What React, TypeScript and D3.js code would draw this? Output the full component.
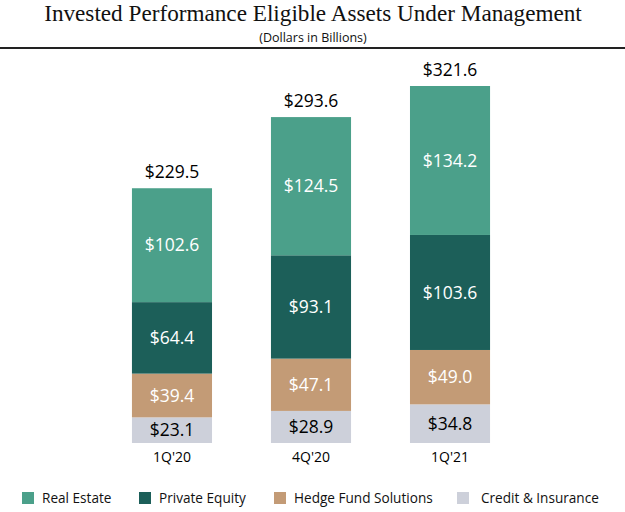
import React, { useEffect, useRef } from 'react';
import * as d3 from 'd3';

const periods = ["1Q'20", "4Q'20", "1Q'21"];
const seriesNames = ['Credit & Insurance', 'Hedge Fund Solutions', 'Private Equity', 'Real Estate'];
const creditInsurance = [23.1, 28.9, 34.8];
const hedgeFund = [39.4, 47.1, 49.0];
const privateEquity = [64.4, 93.1, 103.6];
const realEstate = [102.6, 124.5, 134.2];
const totals = [229.5, 293.6, 321.6];
const legendOrder = ['Real Estate', 'Private Equity', 'Hedge Fund Solutions', 'Credit & Insurance'];

const colors: Record<string, string> = {
  'Real Estate': '#4ba08a',
  'Private Equity': '#1c5f59',
  'Hedge Fund Solutions': '#c39b76',
  'Credit & Insurance': '#cdd0da',
};
const labelColors: Record<string, string> = {
  'Real Estate': '#ffffff',
  'Private Equity': '#ffffff',
  'Hedge Fund Solutions': '#ffffff',
  'Credit & Insurance': '#000000',
};

const W = 625;
const H = 512;
const FONT = '"Open Sans", "DejaVu Sans", sans-serif';

const App: React.FC = () => {
  const svgRef = useRef<SVGSVGElement>(null);

  useEffect(() => {
    if (!svgRef.current) return;
    const svg = d3.select(svgRef.current);
    svg.selectAll('*').remove();

    svg.append('rect').attr('width', W).attr('height', H).attr('fill', '#fff');

    // Title block
    svg.append('text')
      .attr('x', 313).attr('y', 21)
      .attr('text-anchor', 'middle')
      .attr('font-family', '"Liberation Serif", "DejaVu Serif", serif')
      .attr('font-size', 23.2)
      .attr('fill', '#111')
      .text('Invested Performance Eligible Assets Under Management');
    svg.append('text')
      .attr('x', 313).attr('y', 42)
      .attr('text-anchor', 'middle')
      .attr('font-family', FONT)
      .attr('font-size', 12.5)
      .attr('fill', '#111')
      .text('(Dollars in Billions)');
    svg.append('line')
      .attr('x1', 0).attr('x2', W)
      .attr('y1', 48).attr('y2', 48)
      .attr('stroke', '#222').attr('stroke-width', 2);

    const valuesBy: Record<string, number[]> = {
      'Credit & Insurance': creditInsurance,
      'Hedge Fund Solutions': hedgeFund,
      'Private Equity': privateEquity,
      'Real Estate': realEstate,
    };
    const rows = periods.map((p, i) => {
      const r: any = { period: p };
      seriesNames.forEach(s => { r[s] = valuesBy[s][i]; });
      return r;
    });

    const stack = d3.stack<any>().keys(seriesNames);
    const layers = stack(rows);

    const x = d3.scaleBand().domain(periods).range([73, 549]).padding(0.424);
    const y = d3.scaleLinear().domain([0, 321.6]).range([443, 86]);

    const g = svg.append('g');

    layers.forEach(layer => {
      const key = layer.key;
      layer.forEach((d, i) => {
        const p = periods[i];
        g.append('rect')
          .attr('x', x(p)!)
          .attr('width', x.bandwidth())
          .attr('y', y(d[1]))
          .attr('height', y(d[0]) - y(d[1]))
          .attr('fill', colors[key]);
        g.append('text')
          .attr('x', x(p)! + x.bandwidth() / 2)
          .attr('y', (y(d[0]) + y(d[1])) / 2)
          .attr('dy', '0.35em')
          .attr('text-anchor', 'middle')
          .attr('font-family', FONT)
          .attr('font-size', 17.5)
          .attr('fill', labelColors[key])
          .text(`$${(d[1] - d[0]).toFixed(1)}`);
      });
    });

    periods.forEach((p, i) => {
      g.append('text')
        .attr('x', x(p)! + x.bandwidth() / 2)
        .attr('y', y(totals[i]) - 10)
        .attr('text-anchor', 'middle')
        .attr('font-family', FONT)
        .attr('font-size', 17.5)
        .attr('fill', '#000')
        .text(`$${totals[i].toFixed(1)}`);
      g.append('text')
        .attr('x', x(p)! + x.bandwidth() / 2)
        .attr('y', 462)
        .attr('text-anchor', 'middle')
        .attr('font-family', FONT)
        .attr('font-size', 14)
        .attr('fill', '#000')
        .text(p);
    });

    // Legend
    const legendX = [22, 139, 274, 457];
    const legend = svg.append('g');
    legendOrder.forEach((name, i) => {
      legend.append('rect')
        .attr('x', legendX[i]).attr('y', 492)
        .attr('width', 12).attr('height', 12)
        .attr('fill', colors[name]);
      legend.append('text')
        .attr('x', legendX[i] + (name === 'Credit & Insurance' ? 24 : 20))
        .attr('y', 503)
        .attr('font-family', FONT)
        .attr('font-size', 13.6)
        .attr('fill', '#111')
        .text(name);
    });
  }, []);

  return (
    <svg ref={svgRef} width={W} height={H} viewBox={`0 0 ${W} ${H}`}
      style={{ display: 'block', position: 'absolute', left: 0, top: 0 }} />
  );
};

export default App;
